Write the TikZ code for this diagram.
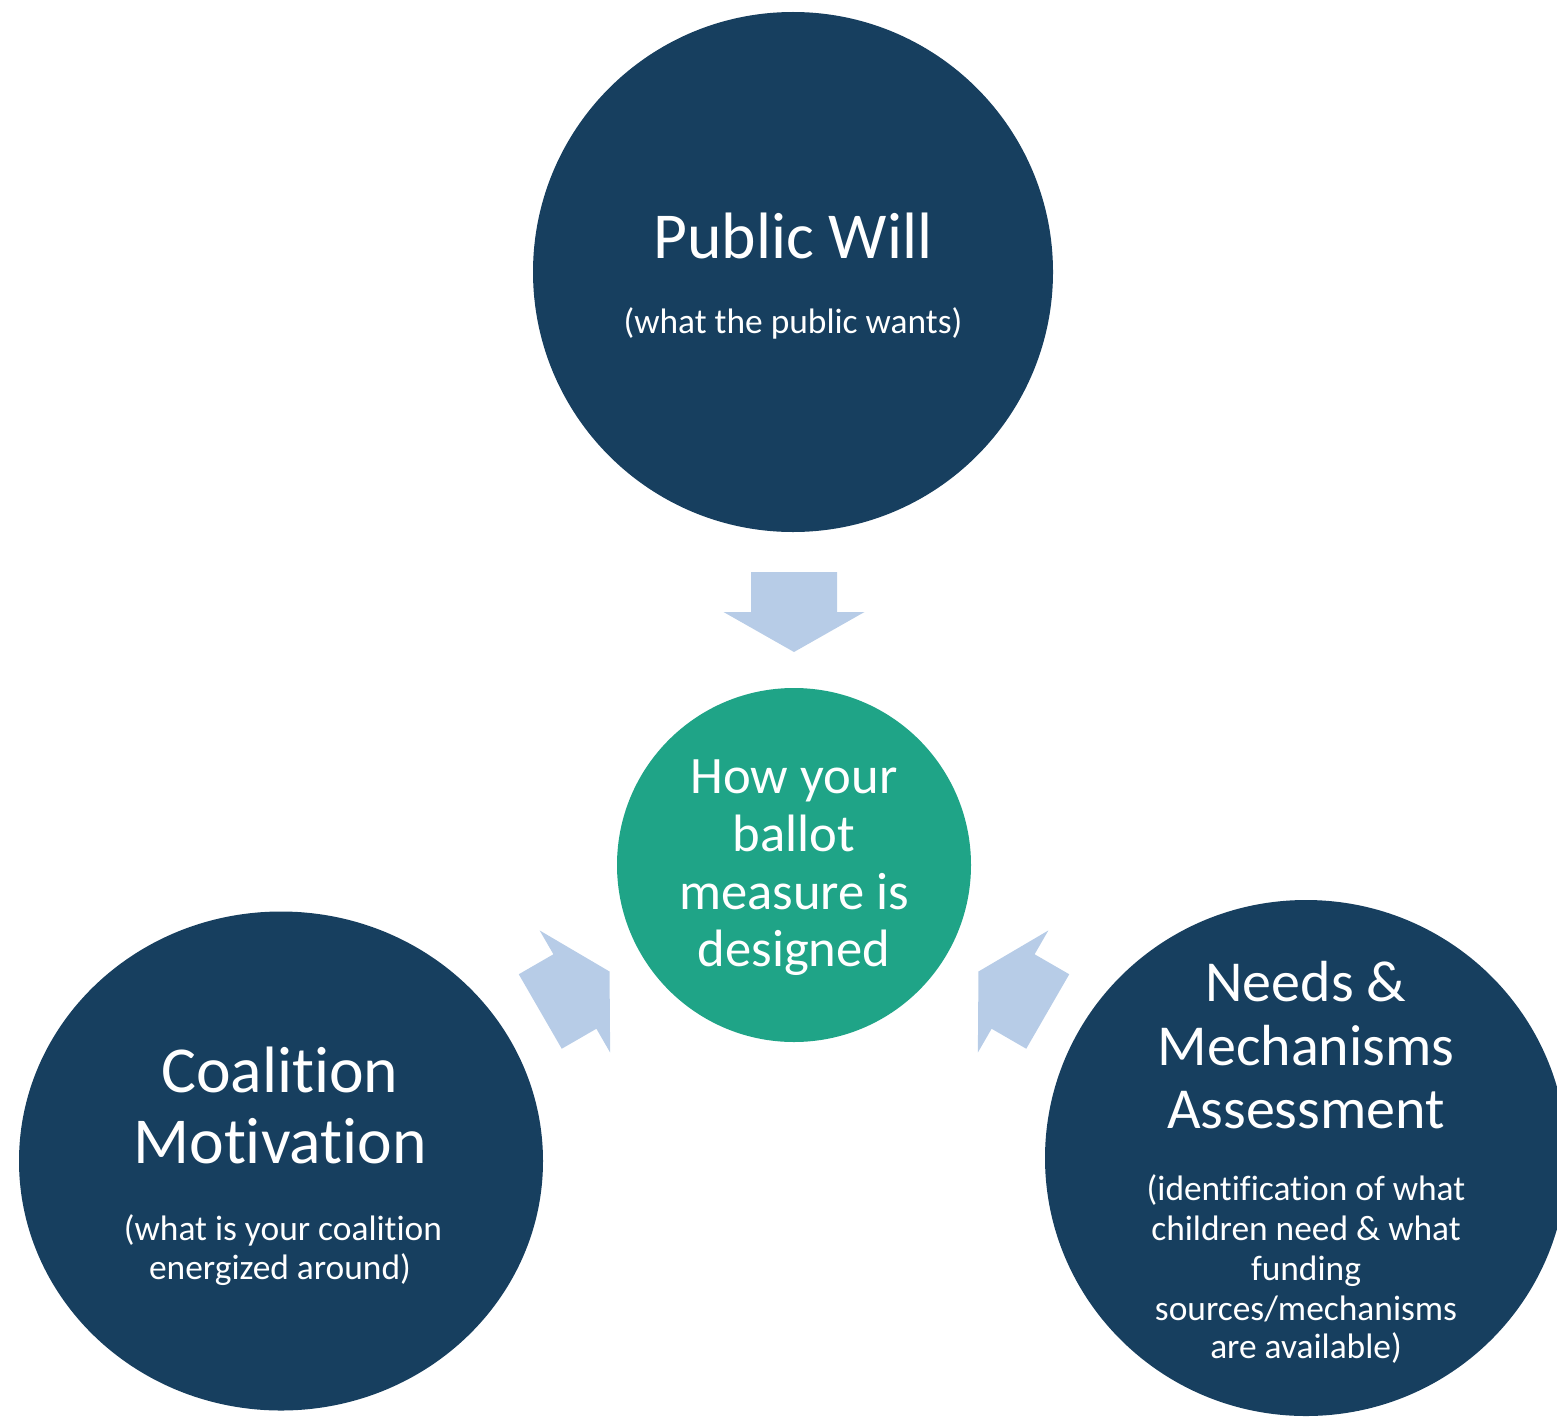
\documentclass[tikz,border=0pt]{standalone}
\usepackage{fontspec}
\setmainfont{Carlito}[Ligatures={NoCommon,NoContextual,NoRequired},Contextuals={NoAlternate}]
\usetikzlibrary{shapes.geometric}
\definecolor{navyfill}{RGB}{23,63,95}
\definecolor{hubfill}{RGB}{31,164,135}
\definecolor{arrowfill}{RGB}{183,204,231}
\begin{document}
\begin{tikzpicture}[x=0.5pt,y=-0.5pt,
  hub/.style={circle, fill=hubfill, inner sep=0pt, minimum size=177pt},
  topic/.style={ellipse, fill=navyfill, inner sep=0pt},
  txt/.style={text=white, inner sep=0pt, anchor=base},
  bigtitle/.style={txt, font=\fontsize{32.8}{35}\selectfont},
  midtitle/.style={txt, font=\fontsize{29}{31}\selectfont},
  hubtext/.style={txt, font=\fontsize{26.3}{29}\selectfont},
  note/.style={txt, font=\fontsize{17.7}{20}\selectfont},
  blockarrow/.style={fill=arrowfill}
]
\useasboundingbox (0,0) rectangle (1557,1418);
\clip (0,0) rectangle (1557,1418);

% central hub and the three surrounding topics
\node[hub] (hub) at (794,865) {};
\node[topic, minimum width=260pt, minimum height=260pt] (will) at (793,272) {};
\node[topic, minimum width=262pt, minimum height=249.5pt] (coal) at (281,1161) {};
\node[topic, minimum width=261pt, minimum height=258pt] (needs) at (1306,1158) {};

% block arrows pointing into the hub
\foreach \ang in {90,210,330}{
  \fill[blockarrow, shift={(hub.center)}, rotate=\ang]
    (213,0) -- (253,70.5) -- (253,43) -- (293,43) -- (293,-43)
    -- (253,-43) -- (253,-70.5) -- cycle;
}

% hub text
\node[hubtext] (h1) at (794,793) {How your};
\node[hubtext] (h2) at (794,851) {ballot};
\node[hubtext] (h3) at (794,909) {measure is};
\node[hubtext] (h4) at (794,966) {designed};

% public will
\node[bigtitle] (w1) at (793,258) {Public Will};
\node[note] (w2) at (793,333) {(what the public wants)};

% coalition motivation
\node[bigtitle] (c1) at (280,1092) {Coalition};
\node[bigtitle] (c2) at (280,1163) {Motivation};
\node[note] (c3) at (283,1240) {(what is your coalition};
\node[note] (c4) at (280,1279) {energized around)};

% needs and mechanisms assessment
\node[midtitle] (n1) at (1306,1001) {Needs \&};
\node[midtitle] (n2) at (1306,1065) {Mechanisms};
\node[midtitle] (n3) at (1306,1128) {Assessment};
\node[note] (n4) at (1306,1200) {(identification of what};
\node[note] (n5) at (1306,1240) {children need \& what};
\node[note] (n6) at (1306,1280) {funding};
\node[note] (n7) at (1306,1320) {sources/mechanisms};
\node[note] (n8) at (1306,1358) {are available)};
\end{tikzpicture}
\end{document}
